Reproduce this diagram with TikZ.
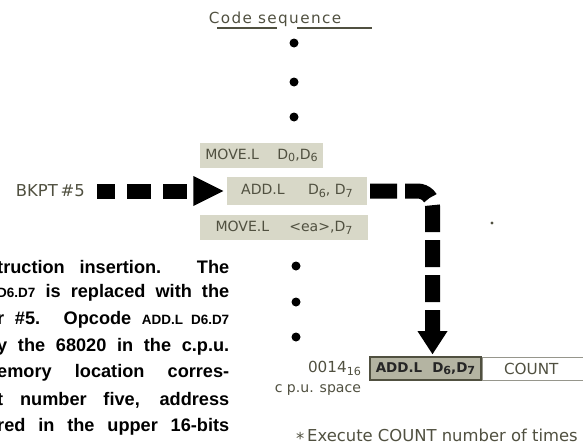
\documentclass[tikz,border=0pt]{standalone}
\usepackage{fontspec}
\setmainfont{Liberation Sans}
\newfontfamily\labelfont{DejaVu Sans}
\newfontfamily\widelabelfont[LetterSpace=9]{DejaVu Sans}
\usetikzlibrary{positioning,arrows.meta}
\definecolor{inkgrey}{HTML}{505040}
\definecolor{boxbg}{HTML}{D8D8C8}
\definecolor{cellbg}{HTML}{B4B4A2}
\newcommand{\lowidx}[1]{\raisebox{-0.35ex}{\fontsize{9.5}{9.5}\selectfont #1}}
\newcommand{\bodyline}[1]{\makebox[6.96cm][s]{#1}}
\tikzset{
  label/.style={inner sep=0pt, text=inkgrey, font=\labelfont\fontsize{13}{15}\selectfont},
  codebox/.style={label, fill=boxbg, minimum height=0.75cm, font=\labelfont\fontsize{12}{14}\selectfont},
  body/.style={inner sep=0pt, anchor=west, font=\bfseries\fontsize{15.5}{18}\selectfont},
  bigdash/.style={line width=0.45cm},
}

\begin{document}
\begin{tikzpicture}[x=0.03cm, y=-0.03cm]
  \clip (0,0) rectangle (583,447);

  % Code sequence
  \node[label, font=\widelabelfont\fontsize{13}{15}\selectfont] (title) at (275,19) {Code sequence};
  \draw[inkgrey, line width=0.04cm] (217,28) -- (277,28) (297,28) -- (372,28);
  \foreach \y in {43,82,117}
    \fill (294,\y) circle (0.135cm);
  \node[codebox, minimum width=3.69cm] (movea) at (261.5,155.5) {MOVE.L\hspace{0.55cm}D\lowidx{0},D\lowidx{6}};
  \node[codebox, minimum width=4.2cm, minimum height=0.84cm] (addi) at (297,191) {ADD.L\hspace{0.7cm}D\lowidx{6}, D\lowidx{7}};
  \node[codebox, minimum width=5.04cm] (moveb) at (284,227.5) {MOVE.L\hspace{0.6cm}<ea>,D\lowidx{7}};
  \foreach \y in {266,302,337}
    \fill (296,\y) circle (0.135cm);
  \fill[inkgrey] (492,223) circle (0.05cm);

  % Breakpoint insertion
  \node[label, anchor=east, font=\labelfont\fontsize{14}{16}\selectfont] (bkpt) at (85,191) {BKPT\,\#5};
  \draw[bigdash, dash pattern=on 0.72cm off 0.36cm, dash phase=0.18cm, shorten <=0.36cm, shorten >=0.1cm,
    -{Triangle[length=0.9cm, width=0.9cm, line width=0pt]}] (bkpt.east) -- (addi.west);

  % c.p.u. space
  \node[draw=inkgrey, line width=0.05cm, fill=cellbg, minimum width=3.33cm, minimum height=0.69cm, inner sep=0pt,
    text=black!85, font=\labelfont\bfseries\fontsize{11.5}{14}\selectfont] (memop) at (425.5,368.5) {ADD.L\hspace{0.3cm}D\lowidx{6},D\lowidx{7}};
  \node[label, draw=inkgrey!60, fill=white, anchor=west, minimum height=0.69cm, text width=2.7cm,
    inner xsep=0.66cm, align=left] (count) at (memop.east) {COUNT};
  \node[label, left=0.24cm of memop] (addr) {0014\lowidx{16}};
  \node[label, anchor=north east, font=\labelfont\fontsize{12}{14}\selectfont] (cpu) at ([yshift=-0.25cm]addr.south east) {c p.u. space};
  \draw[bigdash, dash pattern=on 0.81cm off 0.24cm, shorten <=0.09cm, shorten >=0.06cm, rounded corners=0.45cm,
    -{Triangle[length=0.69cm, width=0.9cm, line width=0pt]}] (addi.east) -| ([xshift=0.21cm]memop.north);
  \node[label, anchor=west, font=\labelfont\fontsize{14}{16}\selectfont] (note) at (296,437) {\raisebox{-0.3ex}{*}\,Execute COUNT number of times};

  % Caption text
  \node[body] (txta) at (-3,267) {\bodyline{truction insertion. The}};
  \node[body] (txtb) at (-3,293) {\bodyline{{\fontsize{11.5}{13}\selectfont D6.D7} is replaced with the}};
  \node[body] (txtc) at (-3,320) {\bodyline{r \#5. Opcode {\fontsize{11.5}{13}\selectfont ADD.L D6.D7}}};
  \node[body] (txtd) at (-3,347) {\bodyline{y the 68020 in the c.p.u.}};
  \node[body] (txte) at (-3,373) {\bodyline{emory location corres-}};
  \node[body] (txtf) at (-3,400) {\bodyline{t number five, address}};
  \node[body] (txtg) at (-3,427) {\bodyline{red in the upper 16-bits}};
\end{tikzpicture}
\end{document}
